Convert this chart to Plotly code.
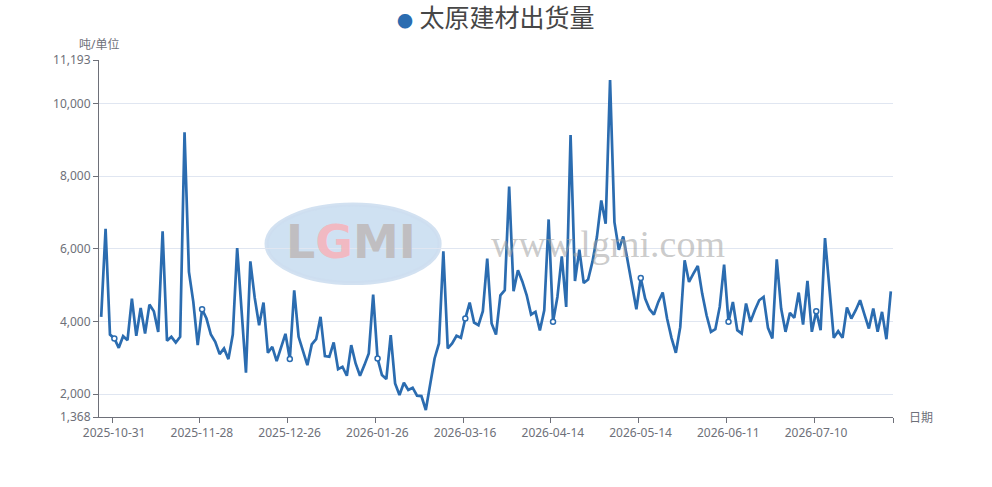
import plotly.graph_objects as go

# 太原建材出货量 (吨), one value per trading day
shipments = [
    4124, 6549, 3638, 3530, 3272, 3592, 3483, 4627, 3600, 4370,
    3665, 4462, 4280, 3711, 6476, 3465, 3574, 3419, 3574, 9203,
    5359, 4535, 3345, 4334, 4078, 3638, 3437, 3098, 3254, 2961,
    3638, 6018, 4300, 2586, 5652, 4645, 3895, 4517, 3135, 3300,
    2906, 3254, 3657, 2961, 4856, 3574, 3208, 2796, 3364, 3510,
    4124, 3043, 3025, 3419, 2686, 2750, 2503, 3345, 2842, 2503,
    2796, 3117, 4737, 2979, 2522, 2412, 3620, 2293, 1973, 2311,
    2110, 2174, 1954, 1945, 1561, 2247, 2979, 3391, 5927, 3254,
    3391, 3602, 3547, 4078, 4517, 3968, 3895, 4280, 5725, 3940,
    3638, 4718, 4856, 7711, 4828, 5405, 5100, 4718, 4188, 4261,
    3748, 4307, 6805, 3986, 4672, 5789, 4398, 9130, 5112, 5972,
    5057, 5150, 5650, 6320, 7327, 6686, 10640, 6732, 5972, 6338,
    5650, 4950, 4334, 5194, 4627, 4334, 4188, 4535, 4792, 4078,
    3547, 3135, 3840, 5680, 5085, 5313, 5524, 4764, 4169, 3712,
    3785, 4398, 5560, 3986, 4535, 3757, 3666, 4490, 3986, 4307,
    4581, 4672, 3821, 3529, 5707, 4352, 3712, 4233, 4096, 4792,
    3913, 5112, 3712, 4279, 3757, 6293, 4950, 3547, 3730, 3547,
    4380, 4078, 4307, 4581, 4188, 3803, 4352, 3712, 4261, 3510,
    4828,
]

tick_dates = ["2025-10-31", "2025-11-28", "2025-12-26", "2026-01-26", "2026-03-16",
              "2026-04-14", "2026-05-14", "2026-06-11", "2026-07-10"]
tick_index = [3, 23, 43, 63, 83, 103, 123, 143, 163]

y_ticks = [1368, 2000, 4000, 6000, 8000, 10000, 11193]

BLUE = "#2b6cb0"
AXIS = "#6E7079"
FONT = "Noto Sans, Noto Sans CJK SC, sans-serif"

x = list(range(len(shipments)))

fig = go.Figure()
fig.add_trace(go.Scatter(x=x, y=shipments, mode="lines",
                         line=dict(color=BLUE, width=2.7), hoverinfo="skip"))
# hollow symbols only where a date label is shown
fig.add_trace(go.Scatter(x=tick_index, y=[shipments[i] for i in tick_index], mode="markers",
                         marker=dict(symbol="circle", size=5, color="white",
                                     line=dict(color=BLUE, width=1.5)),
                         hoverinfo="skip"))

# watermark (logo + site name), roughly
fig.add_shape(type="circle", xref="paper", yref="paper", x0=0.211, x1=0.429, y0=0.375, y1=0.595,
              fillcolor="rgba(175,205,233,0.6)", line=dict(color="rgba(205,222,240,0.9)", width=4),
              layer="below")
fig.add_annotation(xref="paper", yref="paper", x=0.318, y=0.49, xanchor="center", showarrow=False,
                   text="<b><span style='color:rgba(190,186,186,0.9)'>L</span>"
                        "<span style='color:rgba(246,180,188,0.9)'>G</span>"
                        "<span style='color:rgba(190,186,186,0.9)'>MI</span></b>",
                   font=dict(family="DejaVu Sans", size=46))
fig.add_annotation(xref="paper", yref="paper", x=0.641, y=0.485, xanchor="center", showarrow=False,
                   text="www.lgmi.com",
                   font=dict(family="Liberation Serif", size=38, color="rgba(160,160,160,0.55)"))

fig.update_layout(
    width=992, height=487,
    margin=dict(l=99, r=99, t=60, b=70),
    paper_bgcolor="white", plot_bgcolor="white",
    showlegend=False,
    font=dict(family=FONT, size=12, color=AXIS),
    xaxis=dict(
        range=[-0.5, len(shipments) - 0.5],
        tickvals=[i - 0.5 for i in tick_index] + [len(shipments) - 0.5],
        ticktext=tick_dates + [""],
        ticklabelshift=2,
        ticks="outside", ticklen=5, tickcolor=AXIS,
        showline=True, linecolor=AXIS, linewidth=1,
        showgrid=False, zeroline=False,
        tickfont=dict(size=12, color=AXIS),
    ),
    yaxis=dict(
        range=[y_ticks[0], y_ticks[-1]],
        tickvals=y_ticks,
        ticktext=[f"{v:,}" for v in y_ticks],
        ticks="outside", ticklen=5, tickcolor=AXIS,
        showline=True, linecolor=AXIS, linewidth=1,
        gridcolor="#E0E6F1", zeroline=False,
        tickfont=dict(size=12, color=AXIS),
    ),
)

fig.add_annotation(xref="paper", yref="paper", x=0, y=1, yshift=16, showarrow=False,
                   text="吨/单位", font=dict(size=12, color=AXIS), xanchor="center", yanchor="middle")
fig.add_annotation(xref="paper", yref="paper", x=1, y=0, xshift=14, showarrow=False,
                   text="日期", font=dict(size=12, color=AXIS), xanchor="left", yanchor="middle")
fig.add_annotation(xref="paper", yref="paper", x=0.5, y=1, yshift=43, showarrow=False,
                   text=f"<span style='color:{BLUE};font-size:16px'>●</span> 太原建材出货量",
                   font=dict(family=FONT, size=25, color="#464646"), yanchor="middle")

# drop the page's default body margin so the figure sits at the window's corner
fig.write_html("out.html", config={"displayModeBar": False},
               post_script="document.body.style.margin='0px';")
